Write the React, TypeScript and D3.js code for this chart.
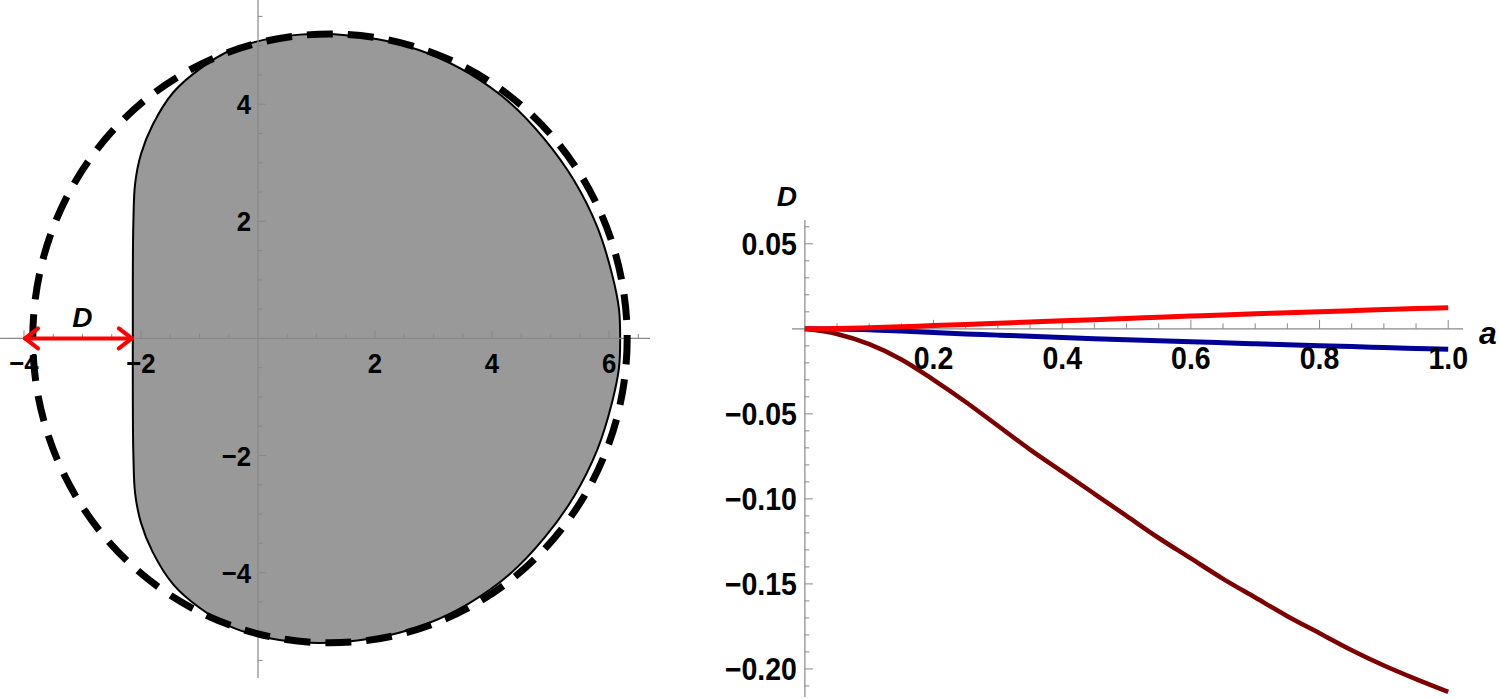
import * as d3 from 'd3';

// left panel: upper half of the shaded region, lower half is its mirror image
const shadowX = [-2.14, -2.14, -2.13, -2.1, -2.0, -1.8, -1.45, -1.0, -0.45, 0.2, 0.9, 1.5, 2.2, 2.9, 3.6, 4.3, 4.9, 5.4, 5.8, 6.05, 6.17, 6.19];
const shadowY = [0, 1.0, 2.0, 2.65, 3.15, 3.65, 4.2, 4.6, 4.93, 5.12, 5.2, 5.18, 5.08, 4.87, 4.53, 4.03, 3.4, 2.7, 1.9, 1.1, 0.5, 0];

// dashed reference curve (center, radii)
const ringCenter = [1.23, 0];
const ringRadii = [5.08, 5.2];

// the "D" arrow along the horizontal axis
const arrowSpan = [-4, -2.14];

const leftXTicks = [-4, -2, 2, 4, 6];
const leftYTicks = [4, 2, -2, -4];

// right panel: D as a function of a
const spin = [0, 0.05, 0.1, 0.15, 0.2, 0.25, 0.3, 0.35, 0.4, 0.45, 0.5, 0.55, 0.6, 0.65, 0.7, 0.75, 0.8, 0.85, 0.9, 0.95, 1.0];
const redD = [0, 0.0002, 0.0006, 0.0012, 0.0019, 0.0026, 0.0033, 0.004, 0.0047, 0.0054, 0.0061, 0.0068, 0.0075, 0.0082, 0.0088, 0.0095, 0.0101, 0.0107, 0.0113, 0.0119, 0.0124];
const blueD = [0, -0.0001, -0.0005, -0.0013, -0.0022, -0.003, -0.0037, -0.0044, -0.0051, -0.0058, -0.0064, -0.007, -0.0076, -0.0082, -0.0088, -0.0094, -0.0099, -0.0104, -0.011, -0.0115, -0.012];
const darkD = [0, -0.003, -0.009, -0.018, -0.030, -0.043, -0.057, -0.071, -0.084, -0.097, -0.110, -0.123, -0.135, -0.147, -0.158, -0.169, -0.179, -0.189, -0.198, -0.206, -0.2135];

const rightXTicks = [0.2, 0.4, 0.6, 0.8, 1.0];
const rightYTicks = [0.05, -0.05, -0.1, -0.15, -0.2];

const FONT = "'Liberation Sans', Arial, sans-serif";
const AXIS = '#888';
const minus = (s: string) => s.replace('-', '\u2212');

// bold, slightly narrowed tick label
const Label = ({ x, y, size, anchor, text }: { x: number; y: number; size: number; anchor: string; text: string }) => (
  <text
    transform={`translate(${x},${y}) scale(0.92,1)`}
    textAnchor={anchor}
    fontFamily={FONT}
    fontWeight="bold"
    fontSize={size}
  >
    {text}
  </text>
);

export default function App() {
  const xL = d3.scaleLinear().domain([-4.41, 6.7]).range([0, 650]);
  const yL = d3.scaleLinear().domain([-5.8, 5.78]).range([678, 0]);
  const xR = d3.scaleLinear().domain([-0.02, 1.023]).range([792, 1463]);
  const yR = d3.scaleLinear().domain([-0.2165, 0.064]).range([697, 220]);

  // closed outline of the shaded region
  const upper = shadowX.map((x, i) => [x, shadowY[i]] as [number, number]);
  const lower = upper.slice(1, -1).map(([x, y]) => [x, -y] as [number, number]).reverse();
  const outline = d3
    .line<[number, number]>()
    .x(d => xL(d[0]))
    .y(d => yL(d[1]))
    .curve(d3.curveCatmullRomClosed.alpha(0.5))([...upper, ...lower]);

  const curve = (vals: number[]) =>
    d3
      .line<number>()
      .x((_, i) => xR(spin[i]))
      .y(d => yR(d))
      .curve(d3.curveCatmullRom.alpha(0.5))(vals);

  const lxMinor = d3.range(-8, 14).map(i => i / 2).filter(v => v !== 0);
  const lyMinor = d3.range(-11, 12).map(i => i / 2).filter(v => v !== 0);
  const rxMinor = d3.range(1, 21);
  const ryMinor = d3.range(-21, 7).filter(v => v !== 0);

  const ax0 = xL(arrowSpan[0]);
  const ax1 = xL(arrowSpan[1]);
  const ay = yL(0);

  return (
    <svg width={1499} height={699} style={{ position: 'absolute', left: 0, top: 0, background: '#fff' }}>
      {/* left panel */}
      <path d={outline ?? ''} fill="#999" stroke="#000" strokeWidth={2} />
      <line x1={xL(-4.41)} x2={xL(6.7)} y1={yL(0)} y2={yL(0)} stroke={AXIS} strokeWidth={1.2} />
      <line x1={xL(0)} x2={xL(0)} y1={yL(-5.8)} y2={yL(5.78)} stroke={AXIS} strokeWidth={1.2} />
      {lxMinor.map(v => (
        <line key={'lx' + v} x1={xL(v)} x2={xL(v)} y1={yL(0)} y2={yL(0) - (v % 2 === 0 ? 8 : 4.5)} stroke={AXIS} />
      ))}
      {lyMinor.map(v => (
        <line key={'ly' + v} x1={xL(0)} x2={xL(0) + (v % 2 === 0 ? 8 : 4.5)} y1={yL(v)} y2={yL(v)} stroke={AXIS} />
      ))}
      <ellipse
        cx={xL(ringCenter[0])}
        cy={yL(ringCenter[1])}
        rx={xL(ringCenter[0] + ringRadii[0]) - xL(ringCenter[0])}
        ry={yL(0) - yL(ringRadii[1])}
        fill="none"
        stroke="#000"
        strokeWidth={7}
        strokeDasharray="26 15"
      />
      {leftXTicks.map(v => (
        <Label key={'lxt' + v} x={xL(v)} y={yL(0) + 35} size={28} anchor="middle" text={minus(String(v))} />
      ))}
      {leftYTicks.map(v => (
        <Label key={'lyt' + v} x={xL(0) - 7} y={yL(v) + 10} size={28} anchor="end" text={minus(String(v))} />
      ))}
      {/* D arrow */}
      <g stroke="#f00" strokeWidth={4} fill="none" strokeLinecap="round" strokeLinejoin="round">
        <line x1={ax0 + 1} x2={ax1 - 1} y1={ay} y2={ay} />
        <polyline points={`${ax0 + 14},${ay - 10} ${ax0 + 1},${ay} ${ax0 + 14},${ay + 10}`} />
        <polyline points={`${ax1 - 14},${ay - 10} ${ax1 - 1},${ay} ${ax1 - 14},${ay + 10}`} />
      </g>
      <text x={(ax0 + ax1) / 2 + 4} y={ay - 11} textAnchor="middle" fontFamily={FONT} fontWeight="bold" fontStyle="italic" fontSize={28}>
        D
      </text>

      {/* right panel */}
      <line x1={xR(-0.02)} x2={xR(1.023)} y1={yR(0)} y2={yR(0)} stroke={AXIS} strokeWidth={1.2} />
      <line x1={xR(0)} x2={xR(0)} y1={yR(-0.2165)} y2={yR(0.064)} stroke={AXIS} strokeWidth={1.2} />
      {rxMinor.map(i => (
        <line key={'rx' + i} x1={xR(i / 20)} x2={xR(i / 20)} y1={yR(0)} y2={yR(0) - (i % 4 === 0 ? 9 : 5.5)} stroke={AXIS} />
      ))}
      {ryMinor.map(i => (
        <line key={'ry' + i} x1={xR(0)} x2={xR(0) + (i % 5 === 0 ? 8 : 4.5)} y1={yR(i / 100)} y2={yR(i / 100)} stroke={AXIS} />
      ))}
      <path d={curve(darkD) ?? ''} fill="none" stroke="#7d0000" strokeWidth={4.5} />
      <path d={curve(blueD) ?? ''} fill="none" stroke="#000096" strokeWidth={5} />
      <path d={curve(redD) ?? ''} fill="none" stroke="#f00" strokeWidth={5} />
      {rightXTicks.map(v => (
        <Label key={'rxt' + v} x={xR(v)} y={yR(0) + 40} size={31} anchor="middle" text={v.toFixed(1)} />
      ))}
      {rightYTicks.map(v => (
        <Label key={'ryt' + v} x={xR(0) - 8} y={yR(v) + 11} size={31} anchor="end" text={minus(v.toFixed(2))} />
      ))}
      <text x={xR(0) - 18} y={yR(0.064) - 14} textAnchor="middle" fontFamily={FONT} fontWeight="bold" fontStyle="italic" fontSize={28}>
        D
      </text>
      <text x={xR(1.023) + 16} y={yR(0) + 15} fontFamily={FONT} fontWeight="bold" fontStyle="italic" fontSize={32}>
        a
      </text>
    </svg>
  );
}
